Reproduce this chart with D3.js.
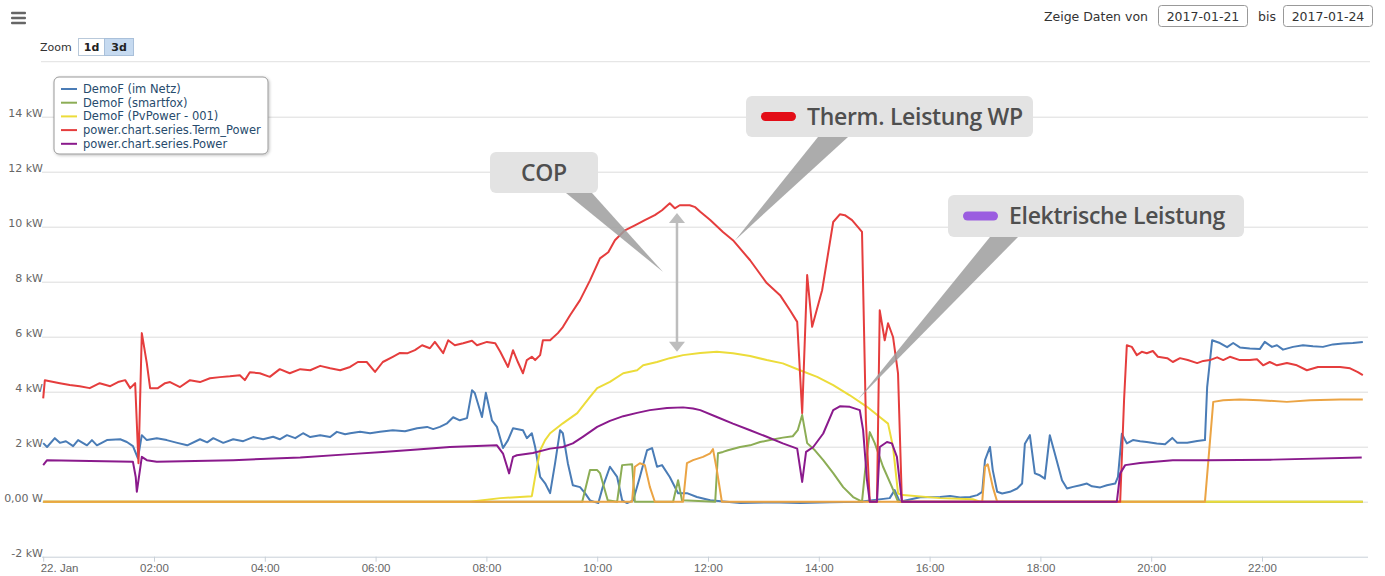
<!DOCTYPE html>
<html>
<head>
<meta charset="utf-8">
<script src="https://cdn.jsdelivr.net/npm/d3@7"></script>
<style>
body { margin: 0; background: #fff; }
svg { display: block; }
</style>
</head>
<body>
<script>
// axis ticks
var xTicks = [0, 2, 4, 6, 8, 10, 12, 14, 16, 18, 20, 22];
var xLabels = ["22. Jan", "02:00", "04:00", "06:00", "08:00", "10:00", "12:00", "14:00", "16:00", "18:00", "20:00", "22:00"];
var yTicks = [-2, 0, 2, 4, 6, 8, 10, 12, 14];
var yLabels = ["-2 kW", "0,00 W", "2 kW", "4 kW", "6 kW", "8 kW", "10 kW", "12 kW", "14 kW"];

var legendNames = ["DemoF (im Netz)", "DemoF (smartfox)", "DemoF (PvPower - 001)", "power.chart.series.Term_Power", "power.chart.series.Power"];

// series as [hour, kW]
var imNetz = [[0,2.13],[0.07,1.99],[0.21,2.31],[0.3,2.14],[0.41,2.2],[0.54,2.02],[0.63,2.24],[0.79,2.05],[0.88,2.24],[0.97,2.05],[1.15,2.24],[1.39,2.27],[1.51,2.17],[1.62,2.02],[1.71,1.58],[1.78,2.42],[1.87,2.24],[2.05,2.31],[2.23,2.24],[2.42,2.14],[2.6,2.05],[2.83,2.27],[2.96,2.16],[3.07,2.31],[3.25,2.14],[3.43,2.27],[3.61,2.2],[3.79,2.35],[3.97,2.27],[4.15,2.36],[4.27,2.27],[4.4,2.42],[4.55,2.31],[4.69,2.49],[4.82,2.35],[5.0,2.42],[5.18,2.35],[5.3,2.54],[5.45,2.45],[5.54,2.49],[5.72,2.54],[5.9,2.49],[6.08,2.54],[6.31,2.6],[6.53,2.56],[6.75,2.67],[6.93,2.72],[7.04,2.64],[7.16,2.72],[7.29,2.85],[7.4,3.07],[7.52,2.96],[7.65,3.04],[7.74,4.05],[7.79,3.95],[7.92,3.08],[7.99,3.96],[8.1,2.96],[8.19,2.72],[8.3,1.95],[8.39,2.24],[8.48,2.67],[8.66,2.6],[8.73,2.31],[8.82,2.49],[8.88,1.99],[8.97,0.9],[9.06,0.67],[9.15,0.31],[9.24,1.4],[9.33,2.6],[9.38,2.49],[9.47,1.4],[9.56,0.6],[9.69,0.53],[9.78,0.31],[9.87,0.05],[10.02,-0.05],[10.1,0.53],[10.23,1.27],[10.36,0.9],[10.45,0.05],[10.54,-0.05],[10.65,0.05],[10.77,0.9],[10.9,1.87],[10.99,1.95],[11.08,1.27],[11.17,1.33],[11.31,0.9],[11.46,0.31],[11.62,0.31],[11.8,0.17],[12.04,0.05],[12.58,-0.05],[13.12,-0.02],[13.66,-0.05],[14.2,-0.02],[14.74,0],[15.28,0.13],[15.37,0.42],[15.46,0],[15.83,0.16],[16.19,0.17],[16.37,0.21],[16.55,0.15],[16.73,0.17],[16.86,0.24],[16.95,0.36],[17.0,1.51],[17.09,1.99],[17.14,1.15],[17.22,0.36],[17.31,0.3],[17.45,0.36],[17.58,0.48],[17.67,0.66],[17.72,2.11],[17.81,2.42],[17.9,1.03],[17.99,0.96],[18.08,0.84],[18.17,2.42],[18.26,1.75],[18.39,0.78],[18.48,0.48],[18.59,0.54],[18.72,0.6],[18.84,0.66],[18.93,0.56],[19.08,0.52],[19.2,0.6],[19.35,0.66],[19.4,0.9],[19.47,2.47],[19.56,2.12],[19.67,2.24],[19.8,2.2],[19.92,2.17],[20.1,2.12],[20.25,2.09],[20.38,2.32],[20.47,2.14],[20.65,2.14],[20.83,2.21],[20.97,2.24],[21.01,4.17],[21.1,5.87],[21.24,5.77],[21.37,5.62],[21.48,5.77],[21.6,5.61],[21.78,5.57],[21.96,5.55],[22.05,5.81],[22.18,5.63],[22.27,5.69],[22.38,5.53],[22.56,5.63],[22.74,5.69],[22.92,5.65],[23.1,5.63],[23.28,5.72],[23.46,5.75],[23.64,5.77],[23.82,5.81]];

var smartfox = [[0,0],[9.73,0],[9.87,1.15],[10.0,1.15],[10.05,1.04],[10.19,0.05],[10.36,0],[10.45,1.33],[10.63,1.36],[10.68,0],[11.37,0],[11.46,0.78],[11.53,0.05],[12.13,0],[12.18,1.76],[12.27,1.81],[12.36,1.87],[12.58,1.99],[12.76,2.05],[12.94,2.17],[13.12,2.24],[13.35,2.33],[13.53,2.38],[13.62,2.6],[13.7,3.15],[13.79,2.13],[13.93,1.87],[14.08,1.51],[14.26,1.04],[14.44,0.53],[14.62,0.17],[14.78,0],[14.85,1.4],[14.92,2.53],[15.01,2.13],[15.16,1.27],[15.32,0.54],[15.43,0],[23.82,0]];

var pvPower = [[0,0],[7.7,0],[8.25,0.13],[8.82,0.2],[8.88,0.9],[8.97,1.87],[9.06,2.24],[9.15,2.49],[9.38,2.85],[9.64,3.22],[9.87,3.81],[10.0,4.13],[10.23,4.36],[10.47,4.67],[10.72,4.78],[10.83,4.96],[11.08,5.08],[11.31,5.22],[11.55,5.33],[11.86,5.41],[12.16,5.45],[12.45,5.4],[12.76,5.3],[13.06,5.15],[13.35,5.03],[13.66,4.78],[13.97,4.54],[14.26,4.24],[14.56,3.87],[14.87,3.45],[15.1,3.08],[15.25,2.84],[15.34,1.99],[15.43,0.3],[15.52,0.24],[16.19,0.13],[16.78,0.09],[16.91,0],[23.82,0]];

var extraLoad = [[0,0],[10.63,0],[10.68,1.27],[10.77,1.4],[10.86,1.33],[10.95,0.54],[11.04,0],[11.55,0],[11.62,1.4],[11.73,1.51],[11.91,1.63],[12.04,1.76],[12.09,1.91],[12.16,1.15],[12.25,0],[16.95,0],[17.0,1.27],[17.05,1.36],[17.14,0.54],[17.22,0],[20.97,0],[21.12,3.63],[21.3,3.69],[21.6,3.72],[21.96,3.69],[22.45,3.63],[22.87,3.69],[23.41,3.72],[23.82,3.72]];

var termPower = [[0,3.76],[0.03,4.42],[0.3,4.31],[0.48,4.24],[0.66,4.2],[0.84,4.13],[1.02,4.31],[1.21,4.2],[1.35,4.35],[1.48,4.42],[1.57,4.13],[1.66,4.31],[1.72,1.4],[1.78,6.13],[1.87,5.04],[1.93,4.13],[2.07,4.13],[2.2,4.31],[2.29,4.35],[2.47,4.17],[2.65,4.42],[2.83,4.35],[3.01,4.49],[3.19,4.53],[3.37,4.56],[3.55,4.6],[3.64,4.42],[3.73,4.71],[3.91,4.67],[4.09,4.54],[4.27,4.82],[4.45,4.67],[4.64,4.82],[4.82,4.78],[5.0,4.94],[5.18,4.85],[5.36,4.78],[5.54,4.9],[5.68,5.08],[5.84,5.08],[5.99,4.72],[6.13,5.08],[6.31,5.27],[6.44,5.41],[6.58,5.4],[6.71,5.51],[6.84,5.69],[6.98,5.58],[7.07,5.81],[7.22,5.4],[7.31,5.87],[7.43,5.69],[7.58,5.76],[7.74,5.85],[7.83,5.69],[8.01,5.81],[8.16,5.76],[8.25,5.45],[8.39,4.9],[8.48,5.51],[8.57,5.07],[8.66,4.67],[8.73,5.15],[8.82,5.27],[8.88,5.15],[8.97,5.33],[9.02,5.87],[9.15,5.87],[9.29,6.13],[9.38,6.35],[9.51,6.78],[9.69,7.33],[9.87,8.05],[10.05,8.85],[10.2,9.07],[10.32,9.51],[10.5,9.87],[10.68,10.05],[10.86,10.24],[11.04,10.42],[11.17,10.6],[11.31,10.85],[11.4,10.67],[11.49,10.78],[11.67,10.78],[11.77,10.71],[11.86,10.54],[12.04,10.24],[12.27,9.81],[12.45,9.51],[12.76,8.78],[13.06,7.95],[13.3,7.51],[13.48,6.96],[13.61,6.54],[13.7,3.22],[13.79,8.24],[13.88,6.36],[14.06,7.69],[14.26,10.17],[14.38,10.45],[14.47,10.42],[14.6,10.24],[14.78,9.81],[14.85,2.96],[14.92,0],[15.05,0],[15.1,6.96],[15.19,5.87],[15.25,6.49],[15.34,5.99],[15.43,4.67],[15.5,0],[19.44,0],[19.51,3.69],[19.56,5.69],[19.65,5.63],[19.74,5.33],[19.83,5.45],[19.92,5.4],[20.03,5.48],[20.12,5.27],[20.29,5.22],[20.39,5.08],[20.52,5.22],[20.66,5.15],[20.83,5.04],[20.94,5.12],[21.06,5.15],[21.19,5.25],[21.3,5.15],[21.42,5.27],[21.6,5.15],[21.78,5.15],[21.91,5.18],[22.02,4.96],[22.14,5.08],[22.27,4.96],[22.45,5.04],[22.63,4.96],[22.81,4.78],[23.01,4.9],[23.23,4.9],[23.41,4.9],[23.59,4.85],[23.73,4.71],[23.82,4.6]];

var power = [[0,1.33],[0.07,1.51],[1.62,1.45],[1.67,0.9],[1.69,0.36],[1.78,1.63],[1.87,1.51],[2.05,1.45],[3.43,1.51],[4.64,1.61],[5.54,1.73],[6.13,1.81],[6.75,1.9],[7.34,1.99],[8.19,2.05],[8.3,1.75],[8.41,1.03],[8.48,1.63],[8.55,1.69],[8.84,1.77],[9.15,1.93],[9.38,1.99],[9.56,2.12],[9.74,2.36],[10.0,2.72],[10.23,2.94],[10.47,3.11],[10.72,3.23],[10.95,3.33],[11.26,3.41],[11.55,3.43],[11.73,3.39],[11.86,3.33],[12.16,3.08],[12.45,2.84],[12.76,2.6],[13.06,2.36],[13.35,2.12],[13.61,1.93],[13.7,0.72],[13.77,1.81],[13.9,1.99],[14.08,2.48],[14.26,3.33],[14.38,3.47],[14.56,3.45],[14.74,3.33],[14.8,2.6],[14.87,0.78],[14.92,0],[15.05,0],[15.1,1.99],[15.23,2.17],[15.32,2.12],[15.41,1.63],[15.5,0],[19.38,0],[19.44,1.03],[19.53,1.33],[19.8,1.41],[20.39,1.51],[21.01,1.51],[22.2,1.53],[23.8,1.61]];

// callouts: text, tip [hour, kW]
var calloutText = ["COP", "Therm. Leistung WP", "Elektrische Leistung"];
var calloutTip = [[11.19, 8.35], [12.49, 9.51], [14.71, 3.73]];
var copArrow = [11.44, 10.5, 5.45]; // hour, top kW, bottom kW

var width = 1385, height = 576;

var svg = d3.select("body")
    .append("svg")
    .attr("width", width)
    .attr("height", height)
    .style("font-family", "'DejaVu Sans', Verdana, sans-serif");

var x = d3.scaleLinear().domain([0, 24]).range([43.2, 1372.8]);
var y = d3.scaleLinear().domain([-2, 16]).range([556.7, 61.7]);

// top line of the plot
svg.append("line")
    .attr("x1", 41).attr("x2", 1370)
    .attr("y1", y(16)).attr("y2", y(16))
    .attr("stroke", "#e0e0e0").attr("stroke-width", 1);

// y grid + labels
var yAxis = d3.axisLeft(y)
    .tickValues(yTicks)
    .tickSize(-(1368 - 42))
    .tickFormat(function(d, i) { return yLabels[i]; });

var gy = svg.append("g")
    .attr("transform", "translate(42,0)")
    .call(yAxis);
gy.select(".domain").remove();
gy.selectAll(".tick line").attr("stroke", "#dcdcdc").attr("stroke-width", 1);
gy.selectAll(".tick line").filter(function(d) { return d === -2; }).attr("stroke", "#c8d0d8");
gy.selectAll(".tick text")
    .attr("x", 1)
    .attr("dy", "-0.05em")
    .attr("fill", "#666")
    .style("font-family", "'DejaVu Sans', sans-serif")
    .style("font-size", "11px");

// x axis
var xAxis = d3.axisBottom(x)
    .tickValues(xTicks)
    .tickSize(5)
    .tickFormat(function(d, i) { return xLabels[i]; });

var gx = svg.append("g")
    .attr("transform", "translate(0," + y(-2) + ")")
    .call(xAxis);
gx.select(".domain").remove();
gx.selectAll(".tick line").attr("stroke", "#c8d0d8");
gx.selectAll(".tick text")
    .attr("y", 7)
    .attr("fill", "#666")
    .style("font-family", "'Liberation Sans', Arial, sans-serif")
    .style("font-size", "11.5px");
gx.selectAll(".tick text").filter(function(d) { return d === 0; })
    .attr("text-anchor", "start").attr("x", -3);

// series
var line = d3.line()
    .x(function(d) { return x(d[0]); })
    .y(function(d) { return y(d[1]); });

var series = [
    { data: imNetz, color: "#4a7cb6" },
    { data: smartfox, color: "#8cad55" },
    { data: pvPower, color: "#ecdc3a" },
    { data: extraLoad, color: "#eba444" },
    { data: termPower, color: "#e53d3d" },
    { data: power, color: "#8a1a8c" }
];

svg.append("g").selectAll("path")
    .data(series)
    .enter()
    .append("path")
    .attr("d", function(d) { return line(d.data); })
    .attr("fill", "none")
    .attr("stroke", function(d) { return d.color; })
    .attr("stroke-width", 2)
    .attr("stroke-linejoin", "round");

// legend
var legendColors = ["#4a7cb6", "#8cad55", "#ecdc3a", "#e53d3d", "#8a1a8c"];
var defs = svg.append("defs");
var flt = defs.append("filter").attr("id", "shadow").attr("x", "-10%").attr("y", "-10%").attr("width", "130%").attr("height", "140%");
flt.append("feDropShadow").attr("dx", 1).attr("dy", 1).attr("stdDeviation", 1.5).attr("flood-color", "#000").attr("flood-opacity", 0.25);

var lg = svg.append("g").attr("transform", "translate(54,77)");
lg.append("rect")
    .attr("width", 214).attr("height", 77)
    .attr("rx", 5)
    .attr("fill", "#fff")
    .attr("stroke", "#999")
    .attr("filter", "url(#shadow)");
var li = lg.selectAll(".item")
    .data(legendNames)
    .enter()
    .append("g")
    .attr("transform", function(d, i) { return "translate(0," + (12 + i * 13.7) + ")"; });
li.append("line")
    .attr("x1", 7).attr("x2", 23)
    .attr("stroke", function(d, i) { return legendColors[i]; })
    .attr("stroke-width", 2);
li.append("text")
    .attr("x", 29).attr("y", 4)
    .attr("fill", "#274b6d")
    .style("font-size", "11.5px")
    .text(function(d) { return d; });

// menu icon
[13, 18, 23].forEach(function(yy) {
    svg.append("rect").attr("x", 11).attr("y", yy - 1.3).attr("width", 15).attr("height", 2.6).attr("rx", 1).attr("fill", "#666");
});

// zoom buttons
svg.append("text").attr("x", 40).attr("y", 51).attr("fill", "#333").style("font-size", "11px").text("Zoom");
svg.append("rect").attr("x", 78.5).attr("y", 38.5).attr("width", 26).attr("height", 17).attr("fill", "#fff").attr("stroke", "#b9c9da");
svg.append("rect").attr("x", 104.5).attr("y", 38.5).attr("width", 29).attr("height", 17).attr("fill", "#c6daf0").attr("stroke", "#a9c0da");
svg.append("text").attr("x", 91.5).attr("y", 51).attr("text-anchor", "middle").attr("fill", "#222").style("font-size", "11px").style("font-weight", "bold").text("1d");
svg.append("text").attr("x", 119).attr("y", 51).attr("text-anchor", "middle").attr("fill", "#222").style("font-size", "11px").style("font-weight", "bold").text("3d");

// date range controls
var ctl = svg.append("g").style("font-family", "'DejaVu Sans', sans-serif").style("font-size", "12.5px").attr("fill", "#333");
ctl.append("text").attr("x", 1148).attr("y", 21).attr("text-anchor", "end").text("Zeige Daten von");
ctl.append("rect").attr("x", 1158.5).attr("y", 5.5).attr("width", 89).attr("height", 21).attr("rx", 3).attr("fill", "#fff").attr("stroke", "#999");
ctl.append("text").attr("x", 1203).attr("y", 21).attr("text-anchor", "middle").text("2017-01-21");
ctl.append("text").attr("x", 1258).attr("y", 21).text("bis");
ctl.append("rect").attr("x", 1283.5).attr("y", 5.5).attr("width", 89).attr("height", 21).attr("rx", 3).attr("fill", "#fff").attr("stroke", "#999");
ctl.append("text").attr("x", 1328).attr("y", 21).attr("text-anchor", "middle").text("2017-01-24");

// COP double arrow
var ax = x(copArrow[0]), ay1 = y(copArrow[1]), ay2 = y(copArrow[2]);
svg.append("line").attr("x1", ax).attr("x2", ax).attr("y1", ay1 + 6).attr("y2", ay2 - 6)
    .attr("stroke", "#bdbdbd").attr("stroke-width", 2.5);
svg.append("path").attr("d", "M" + ax + "," + ay1 + "l-8,10h16z").attr("fill", "#bdbdbd");
svg.append("path").attr("d", "M" + ax + "," + ay2 + "l-8,-10h16z").attr("fill", "#bdbdbd");

// callouts
var boxes = [
    { x: 490, y: 152, w: 108, h: 41, base: [566, 592], pill: null },
    { x: 746, y: 96, w: 287, h: 41, base: [818, 848], pill: "#e30d17" },
    { x: 948, y: 195, w: 296, h: 42, base: [990, 1018], pill: "#9b5de0" }
];
var cg = svg.append("g").style("font-family", "'Open Sans', sans-serif");
boxes.forEach(function(b, i) {
    var tip = [x(calloutTip[i][0]), y(calloutTip[i][1])];
    cg.append("path")
        .attr("d", "M" + b.base[0] + "," + (b.y + b.h) + "L" + tip[0] + "," + tip[1] + "L" + b.base[1] + "," + (b.y + b.h) + "Z")
        .attr("fill", "#9e9e9e").attr("fill-opacity", 0.85);
    cg.append("rect")
        .attr("x", b.x).attr("y", b.y).attr("width", b.w).attr("height", b.h)
        .attr("rx", 6).attr("fill", "#e3e3e3");
    var tx = b.x + b.w / 2, anchor = "middle";
    if (b.pill) {
        cg.append("rect").attr("x", b.x + 15).attr("y", b.y + b.h / 2 - 4.5).attr("width", 35).attr("height", 9)
            .attr("rx", 4.5).attr("fill", b.pill);
        tx = b.x + 61; anchor = "start";
    }
    cg.append("text")
        .attr("x", tx).attr("y", b.y + b.h / 2 + 8)
        .attr("text-anchor", anchor)
        .attr("fill", "#4f4f4f")
        .style("font-size", "23px").style("font-weight", 600)
        .style("letter-spacing", "-0.3px")
        .text(calloutText[i]);
});
</script>
</body>
</html>
